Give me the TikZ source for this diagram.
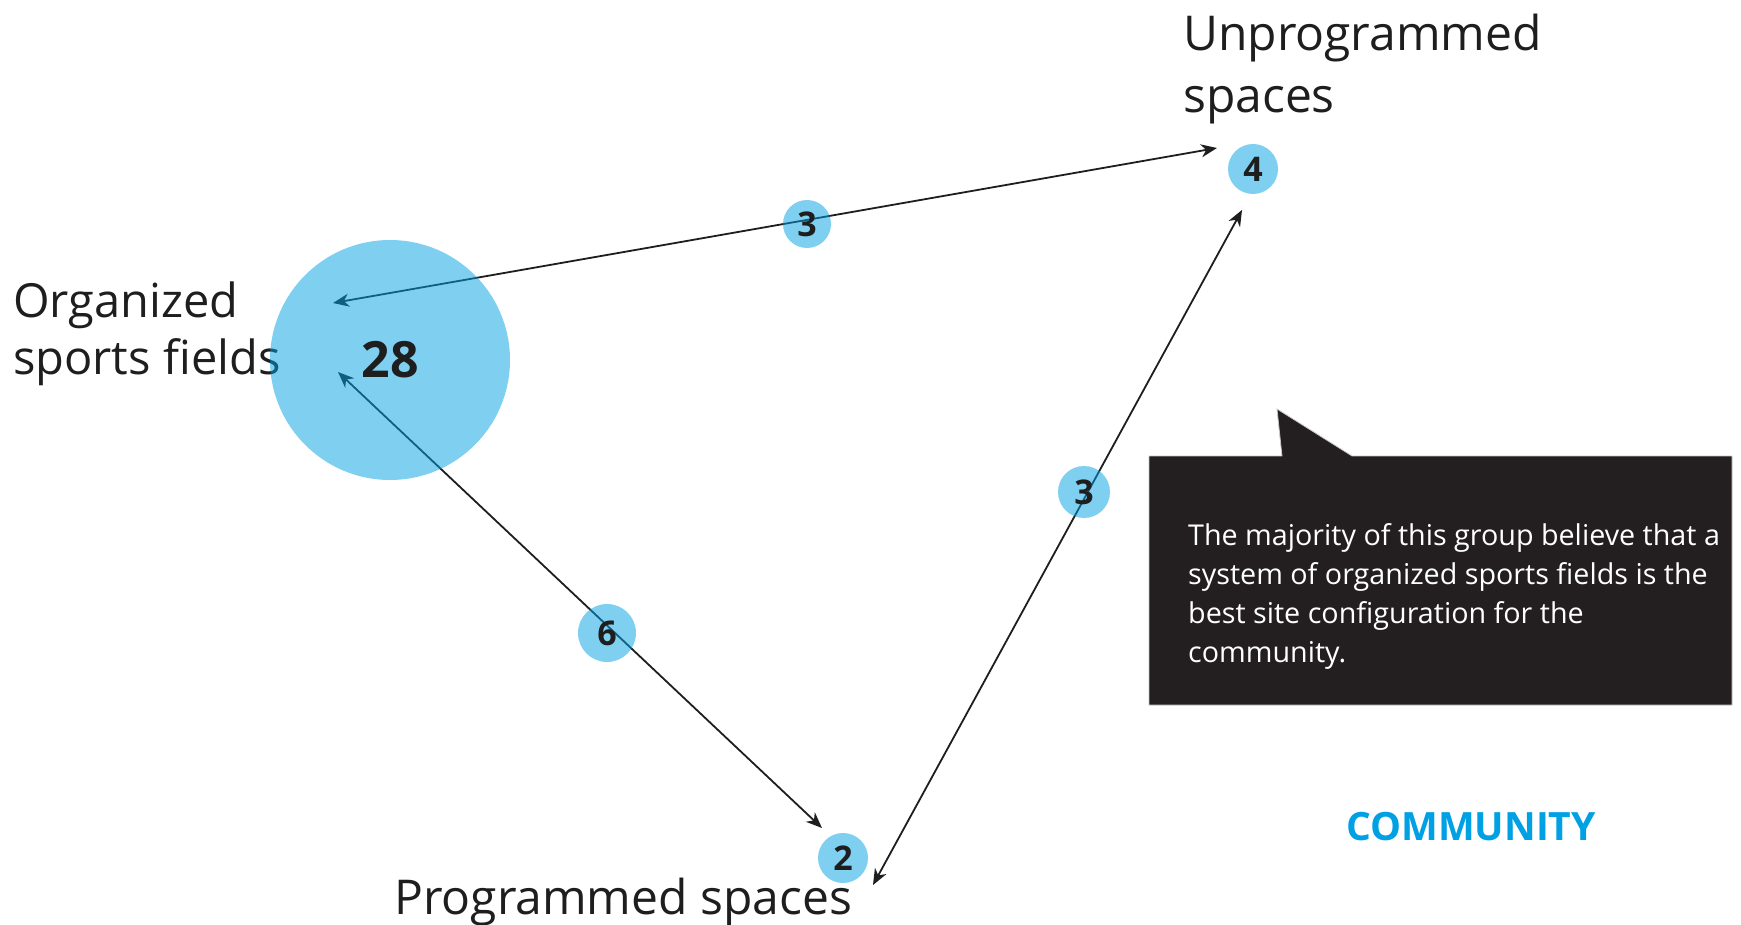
\documentclass[tikz,border=0pt]{standalone}
\usepackage{fontspec}
\setmainfont{Open Sans}
\usetikzlibrary{backgrounds,calc,positioning,arrows.meta}
\definecolor{skyblue}{RGB}{0,160,228}
\definecolor{notegray}{RGB}{35,31,32}
\definecolor{inkgray}{RGB}{30,30,30}

\begin{document}
\begin{tikzpicture}[
    x=1pt, y=-1pt,
    bubble/.style={circle, fill=skyblue, fill opacity=0.5, text opacity=1, text=inkgray, inner sep=0pt, minimum size=50pt, font=\fontsize{34}{34}\selectfont\bfseries},
    labelstyle/.style={inner sep=0pt, align=left, text=inkgray, font=\fontsize{47}{57}\selectfont},
    notestyle/.style={inner sep=0pt, align=left, text=white, font=\fontsize{28.7}{39}\selectfont},
    pathstyle/.style={{Stealth[length=16pt,width=13pt,inset=5pt]}-{Stealth[length=16pt,width=13pt,inset=5pt]}, line width=1.8pt, draw=inkgray}
  ]
  \useasboundingbox (0,0) rectangle (1741,925);

  % bubbles
  \node[bubble, minimum size=240pt, font=\fontsize{50}{50}\selectfont\bfseries] (ORG) at (390,360) {28};
  \node[bubble] (U4) at (1253,169) {4};
  \node[bubble, minimum size=48pt] (TOP3) at (807,224) {3};
  \node[bubble, minimum size=52pt] (RIGHT3) at (1084,492) {3};
  \node[bubble, minimum size=58pt] (MID6) at (607,633) {6};
  \node[bubble] (P2) at (843,858) {2};

  \begin{scope}[on background layer]
    \node[labelstyle, anchor=north west] (ORGLBL) at (13,282)
      {Organized\\sports fields};
    \node[labelstyle, anchor=north west, font=\fontsize{48}{62}\selectfont] (UNPROGLBL) at (1183,14)
      {Unprogrammed\\spaces};
    \node[labelstyle, anchor=base west, font=\fontsize{48}{48}\selectfont] (PROGLBL) at (394,914)
      {Programmed spaces};

    \coordinate (ORGA) at ($(ORG.center)+(-57,-57)$);
    \coordinate (ORGB) at ($(ORG.center)+(-52,12)$);
    \coordinate (U4A) at ($(U4)+(-36,-21)$);
    \coordinate (U4B) at ($(U4)+(-11,41)$);
    \coordinate (P2A) at ($(P2)+(-21,-30)$);
    \coordinate (P2B) at ($(P2)+(30,27)$);

    \draw[pathstyle] (ORGA) -- (U4A);
    \draw[pathstyle] (ORGB) -- (P2A);
    \draw[pathstyle] (U4B) -- (P2B);
  \end{scope}

  % callout
  \filldraw[fill=notegray, draw=gray!45, line width=0.8pt]
    (1149,456) -- (1282,456) -- (1277,409) -- (1352,456) -- (1732,456) -- (1732,705) -- (1149,705) -- cycle;
  \node[notestyle, anchor=north west] (NOTE) at (1188,523)
    {The majority of this group believe that a\\system of organized sports fields is the\\best site configuration for the\\community.};

  \node[inner sep=0pt, text=skyblue, font=\fontsize{39}{39}\selectfont\bfseries] (COMM) at (1471,827) {COMMUNITY};
\end{tikzpicture}
\end{document}
